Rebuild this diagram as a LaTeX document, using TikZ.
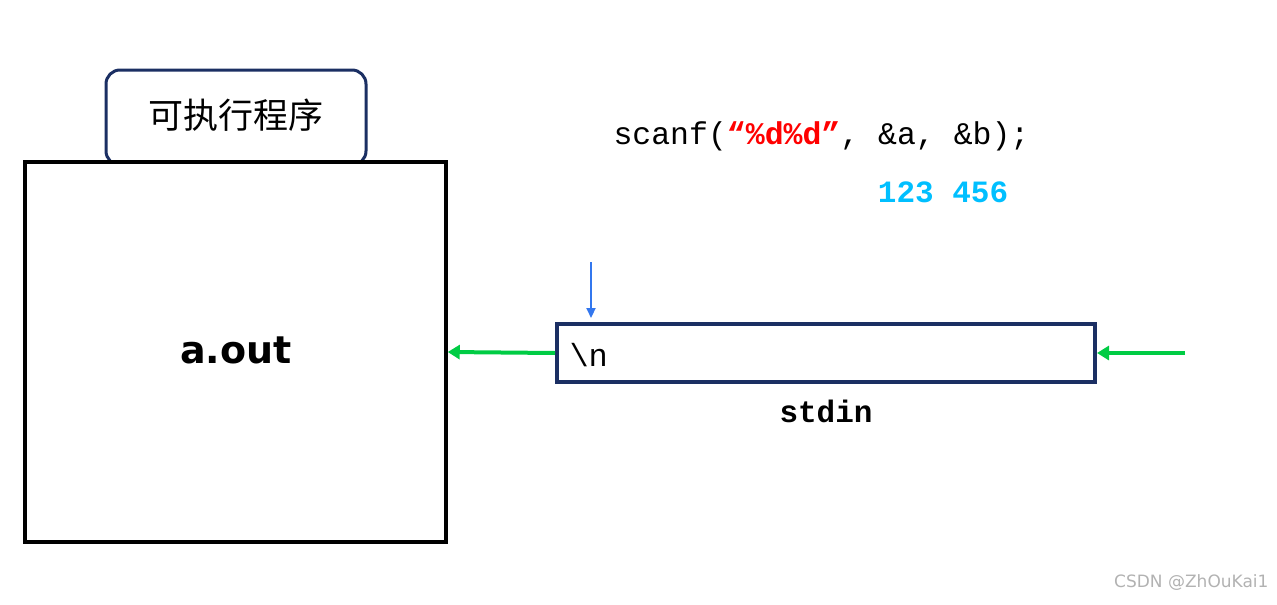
\documentclass[tikz,border=0pt]{standalone}
\usepackage{fontspec}
\setmainfont{DejaVu Sans}
\setmonofont{Liberation Mono}
\newfontfamily\cjk{Noto Sans CJK SC}
\usetikzlibrary{arrows.meta}
\definecolor{navy}{HTML}{1B2F63}
\definecolor{grn}{HTML}{00CC44}
\definecolor{blu}{HTML}{3377EE}
\definecolor{cyn}{HTML}{00BFFF}
\tikzset{gar/.style={grn,line width=4pt,-{Triangle[length=12pt,width=14pt]}}}
\begin{document}
\begin{tikzpicture}[x=1pt,y=-1pt]
\useasboundingbox (0,0) rectangle (1277,605);
\node[draw=navy,line width=3pt,rounded corners=14pt,minimum width=260pt,minimum height=95pt,fill=white] (tab) at (236,117.5) {};
\node at (236,115) {\cjk\fontsize{35pt}{37pt}\selectfont 可执行程序};
\node[draw=black,line width=3.5pt,minimum width=421pt,minimum height=380pt,fill=white] (aout) at (235.5,352) {};
\node at (236,350) {\bfseries\fontsize{38pt}{42pt}\selectfont a.out};
\node[draw=navy,line width=4pt,minimum width=538pt,minimum height=58pt,inner sep=0pt] (buf) at (826,353) {};
\node[anchor=west] (nl) at (566,355) {\ttfamily\fontsize{32pt}{34pt}\selectfont \textbackslash n};
\node (stdin) at (826,411) {\ttfamily\bfseries\fontsize{31pt}{33pt}\selectfont stdin};
\coordinate (src) at (1185,353);
\draw[gar] (buf.west) -- (aout.east);
\draw[gar] (src) -- (buf.east);
\coordinate (bt) at (591,262);
\coordinate (bb) at (591,318);
\draw[blu,line width=2.2pt,-{Triangle[length=10pt,width=9pt]}] (bt) -- (bb);
\node[anchor=west] (scanf) at (610,136) {\ttfamily\fontsize{31.5pt}{33pt}\selectfont scanf(\textcolor{red}{\bfseries “\%d\%d”}, \&a, \&b);};
\node (in) at (943,192) {\ttfamily\bfseries\fontsize{31pt}{33pt}\selectfont\color{cyn} 123 456};
\node[anchor=east,gray!60] (wm) at (1272,583) {\fontsize{17pt}{19pt}\selectfont CSDN @ZhOuKai1};
\end{tikzpicture}
\end{document}
